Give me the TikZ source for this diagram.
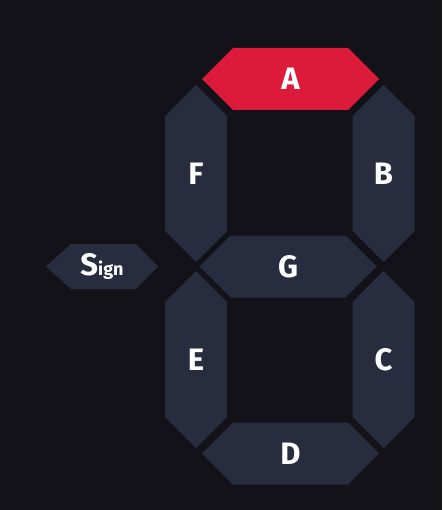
\documentclass[tikz,border=0pt]{standalone}
\usepackage{fontspec}
\setmainfont{Fira Sans}
\definecolor{bg}{HTML}{141219}
\definecolor{seg}{HTML}{272C3E}
\definecolor{segon}{HTML}{DC1B3B}
\newcommand{\hsegment}[5]{% name, cx, cy, colour, label
  \fill[#4] ({#2-88.5},#3) -- ({#2-57.5},{#3-31}) -- ({#2+57.5},{#3-31}) -- ({#2+88.5},#3)
    -- ({#2+57.5},{#3+31}) -- ({#2-57.5},{#3+31}) -- cycle;
  \node[seglabel] (#1) at (#2,#3) {#5};}
\newcommand{\vsegment}[5]{%
  \fill[#4] (#2,{#3-88.5}) -- ({#2+31},{#3-57.5}) -- ({#2+31},{#3+57.5}) -- (#2,{#3+88.5})
    -- ({#2-31},{#3+57.5}) -- ({#2-31},{#3-57.5}) -- cycle;
  \node[seglabel] (#1) at (#2,#3) {#5};}
\begin{document}
\begin{tikzpicture}[x=1pt,y=-1pt,
  seglabel/.style={inner sep=0pt, text=white, font=\bfseries\fontsize{31}{31}\selectfont}]
\fill[bg] (0,0) rectangle (442,510);
\hsegment{A}{290.5}{79}{segon}{A}
\hsegment{G}{288}{266.5}{seg}{G}
\hsegment{D}{290.5}{453.5}{seg}{D}
\vsegment{F}{196}{173.5}{seg}{F}
\vsegment{E}{196}{359.5}{seg}{E}
\vsegment{B}{383.5}{173.5}{seg}{B}
\vsegment{C}{383.5}{359.5}{seg}{C}
\fill[seg] (46,266.5) -- (71,244) -- (136,244) -- (158,266.5) -- (136,289) -- (71,289) -- cycle;
\node[seglabel, anchor=base] (S) at (102,275) {{\fontsize{31}{31}\selectfont S}{\fontsize{18}{18}\selectfont ign}};
\end{tikzpicture}
\end{document}
